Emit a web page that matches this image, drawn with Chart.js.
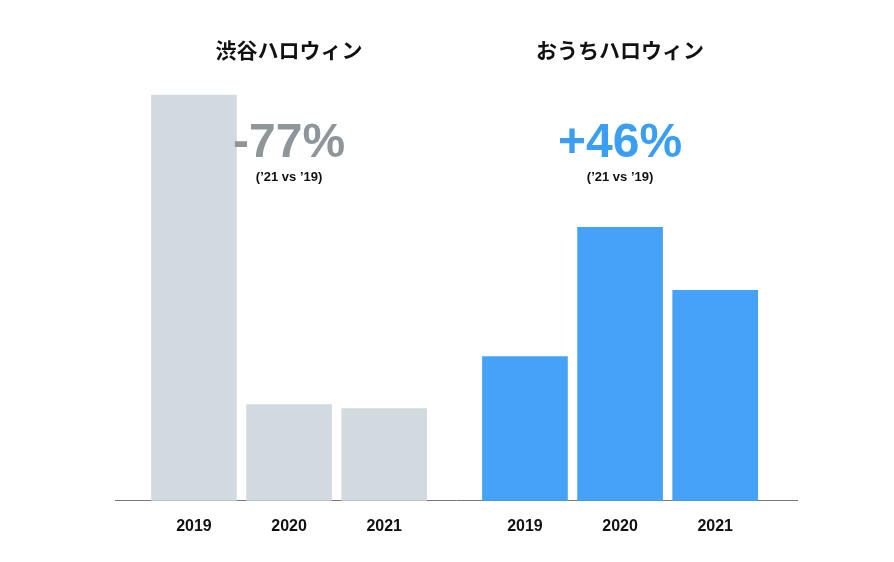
<!DOCTYPE html>
<html><head><meta charset="utf-8">
<script src="https://cdn.jsdelivr.net/npm/chart.js@4"></script>
<style>body{margin:0;background:#fff}#w{width:894px;height:562px}</style>
</head><body><div id="w"><canvas id="c"></canvas></div>
<script>
const years = ['2019','2020','2021','2019','2020','2021'];
const positions = [0,1,2,3.48,4.48,5.48];
const values = [405,96,92,144,273,210];
const groupTitles = ['渋谷ハロウィン','おうちハロウィン'];
const changes = ['-77%','+46%'];
const sub = '(’21 vs ’19)';
const colors = ['#d1dadf','#d1dadf','#d1dadf','#45a2f6','#45a2f6','#45a2f6'];
const font = '"Liberation Sans", "Noto Sans CJK JP", sans-serif';
const textPlugin = {id:'t', afterDraw(ch){
  const c=ch.ctx, x=ch.scales.x;
  c.save(); c.textAlign='center'; c.textBaseline='middle';
  [[1,'#8f9699'],[4.48,'#3a9ff2']].forEach(([p,col],i)=>{
    const cx=x.getPixelForValue(p);
    c.fillStyle='#111'; c.font='bold 21px "Noto Sans CJK JP", sans-serif';
    c.fillText(groupTitles[i],cx,50);
    c.fillStyle=col; c.font='bold 48px '+font;
    c.fillText(changes[i],cx,144);
    c.fillStyle='#111'; c.font='bold 13px '+font;
    c.fillText(sub,cx,177);
  });
  c.restore();
}};
new Chart(document.getElementById('c'),{
  type:'bar',
  data:{datasets:[{data:positions.map((p,i)=>({x:p,y:values[i]})),backgroundColor:colors,barThickness:85}]},
  options:{responsive:true,maintainAspectRatio:false,animation:false,
    layout:{padding:{left:115,right:97,top:80,bottom:18}},
    plugins:{legend:{display:false},tooltip:{enabled:false}},
    scales:{
      x:{type:'linear',min:-0.83,max:6.34,offset:false,
        afterBuildTicks(s){s.ticks=positions.map(v=>({value:v}));},
        ticks:{autoSkip:false,maxRotation:0,padding:8,color:'#111',font:{family:font,size:16,weight:'bold'},
          callback:(v,i)=>years[i]},
        grid:{display:false,offset:false},border:{color:'#777',width:1}},
      y:{min:0,max:420,display:false}
    }},
  plugins:[textPlugin]
});
</script></body></html>
